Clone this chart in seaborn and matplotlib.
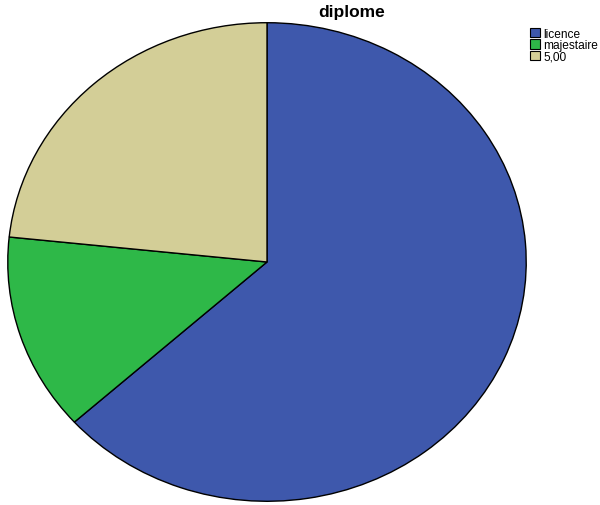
import matplotlib
matplotlib.use("Agg")
import matplotlib.pyplot as plt
import seaborn as sns
from matplotlib.patches import Patch

categories = ["licence", "majestaire", "5,00"]
counts = [19, 4, 7]
colors = ["#3E58AC", "#2EB848", "#D3CE97"]
title = "diplome"

sns.set_theme(style="white")
plt.rcParams['font.family'] = ['Liberation Sans', 'DejaVu Sans']
plt.rcParams['text.color'] = 'black'

W, H = 600, 506
fig = plt.figure(figsize=(W / 100, H / 100), dpi=100)
ax = fig.add_axes([7 / W, 3 / H, 520 / W, 480 / H])
ax.pie(counts, colors=colors, startangle=90, counterclock=False,
       wedgeprops=dict(edgecolor="black", linewidth=1.0))
ax.set_aspect("auto")
ax.set_xlim(-1.003, 1.003)
ax.set_ylim(-1.003, 1.003)
ax.axis("off")

fig.text(352 / W, 1 - 12 / H, title, ha="center", va="center",
         fontsize=12.5, fontweight="bold", color="black")

handles = [Patch(facecolor=c, edgecolor="black", linewidth=0.8) for c in colors]
leg = fig.legend(handles, categories, loc="upper left",
                 bbox_to_anchor=(530 / W, 1 - 28.5 / H), frameon=False,
                 fontsize=8.6, handlelength=0.8, handleheight=0.8,
                 handletextpad=0.3, labelspacing=-0.03, borderpad=0,
                 borderaxespad=0)
for t in leg.get_texts():
    t.set_color("black")

fig.savefig("out.png", dpi=100)
